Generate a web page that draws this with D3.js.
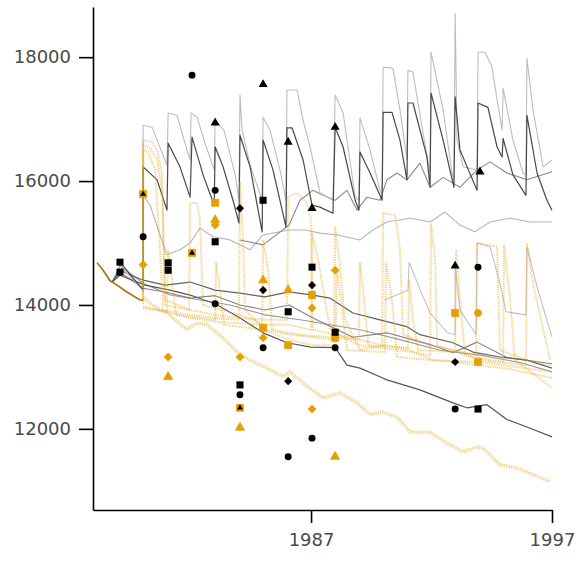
<!DOCTYPE html>
<html>
<head>
<meta charset="utf-8">
<script src="https://cdn.jsdelivr.net/npm/d3@7"></script>
<style>
  body { margin: 0; background: #fff; }
  svg { display: block; }
  .tick text { font-family: "DejaVu Sans", sans-serif; fill: #4a4a4a; }
</style>
</head>
<body>
<div id="viz"></div>
<script>
const width = 576;
const height = 562;

// tick labels
const yTicks = [12000, 14000, 16000, 18000];
const xTicks = [1987, 1997];

// history before the first forecast
const history = [[1978.12,14680],[1978.37,14560],[1978.66,14390],[1978.95,14320],[1979.28,14230],[1979.61,14150],[1979.90,14080],[1980.03,14080]];

// gray (solid) series
const grayUpperDark = [[1979.07,14690],[1980.03,14240],[1980.03,16230],[1980.61,16020],[1981.02,15530],[1981.07,16610],[1981.56,16230],[1981.98,15740],[1982.06,16710],[1982.52,16100],[1982.98,15610],[1983.02,16550],[1983.35,16230],[1983.76,15690],[1984.01,15320],[1984.05,16740],[1984.47,16230],[1984.97,15180],[1985.01,16660],[1985.42,16180],[1985.96,15260],[1986.00,16860],[1986.21,16860],[1986.67,16340],[1987.04,15610],[1987.37,15580],[1987.91,15480],[1988.00,16870],[1988.33,16550],[1988.83,15690],[1988.99,15530],[1989.03,16470],[1989.45,16130],[1989.95,15690],[1989.99,17110],[1990.36,17110],[1990.69,16660],[1990.98,16020],[1991.02,17260],[1991.23,17260],[1991.81,16390],[1991.94,15900],[1991.98,17420],[1992.48,16660],[1992.93,15900],[1992.98,17360],[1993.18,16500],[1993.89,15850],[1993.93,17260],[1994.34,17190],[1994.72,16550],[1994.93,16390],[1994.97,16690],[1995.38,16100],[1995.92,15770],[1995.96,17060],[1996.38,16130],[1996.79,15690],[1997.00,15530]];
const grayUpperLight = [[1979.07,14630],[1980.03,14240],[1980.03,16900],[1980.40,16870],[1980.61,16660],[1981.02,16260],[1981.07,17100],[1981.44,17060],[1981.85,16500],[1981.98,16340],[1982.02,17100],[1982.27,17030],[1982.60,16610],[1982.98,16180],[1983.02,16980],[1983.39,16820],[1983.85,16100],[1984.01,15690],[1984.05,17390],[1984.14,16820],[1984.47,16260],[1984.97,15690],[1985.01,17030],[1985.30,16820],[1985.71,16180],[1985.96,15690],[1986.00,17470],[1986.42,17470],[1986.67,16980],[1986.96,16550],[1987.37,15810],[1987.91,15690],[1988.00,17390],[1988.33,17100],[1988.83,15740],[1988.99,15690],[1989.03,17020],[1989.45,16500],[1989.86,15850],[1989.95,15770],[1989.99,17840],[1990.40,17820],[1990.69,17150],[1990.98,16340],[1991.02,17790],[1991.23,17760],[1991.65,16770],[1991.94,16130],[1991.98,18080],[1992.48,17150],[1992.85,16130],[1992.93,16020],[1992.98,18710],[1993.06,16660],[1993.31,16230],[1993.89,16180],[1993.93,18080],[1994.22,18080],[1994.51,17840],[1994.72,17310],[1994.93,16820],[1994.97,17500],[1995.38,16660],[1995.80,16130],[1995.92,16100],[1995.96,17980],[1996.21,17150],[1996.63,16230],[1997.00,16340]];
const grayWavyUpper = [[1984.05,15050],[1985.01,14970],[1986.09,15290],[1986.54,15690],[1987.08,15850],[1987.50,15770],[1988.00,15690],[1988.49,15850],[1988.91,15530],[1989.32,15740],[1989.86,15690],[1990.15,16020],[1990.57,16130],[1990.98,16020],[1991.52,16290],[1991.94,15900],[1992.48,16060],[1993.18,15900],[1993.89,16180],[1994.43,16310],[1995.13,16130],[1995.96,16020],[1997.00,16150]];
const grayMid = [[1980.03,14240],[1980.03,15770],[1980.32,15610],[1980.73,15130],[1981.02,14810],[1981.56,14890],[1981.98,15000],[1982.39,15240],[1982.93,15100],[1983.64,15050],[1984.47,14890],[1985.01,15130],[1986.09,15210],[1986.75,15210],[1987.37,15160],[1988.08,15130],[1989.03,15050],[1989.57,15210],[1990.15,15340],[1991.11,15400],[1991.94,15340],[1992.56,15500],[1993.18,15290],[1993.80,15180],[1994.43,15340],[1995.26,15400],[1996.09,15340],[1997.00,15340]];
const grayMidSpiky = [[1990.07,14080],[1991.02,14240],[1991.07,14690],[1991.65,14130],[1991.94,13870],[1992.64,13560],[1992.98,13520],[1992.98,14630],[1993.18,13920],[1993.85,13520],[1993.89,15000],[1994.43,14940],[1994.84,14350],[1995.09,13890],[1995.92,13840],[1995.96,14940],[1996.38,14290],[1997.00,13480]];
const grayLow1 = [[1978.74,14370],[1979.07,14560],[1980.03,14400],[1980.94,14320],[1981.98,14370],[1983.02,14240],[1984.05,14190],[1985.09,14130],[1986.09,14210],[1987.08,14160],[1987.79,14110],[1988.74,13870],[1989.86,13760],[1990.98,13650],[1991.52,13520],[1992.89,13390],[1993.72,13240],[1994.84,13160],[1995.96,13110],[1997.00,12980]];
const grayLow2 = [[1978.74,14370],[1979.07,14530],[1980.03,14270],[1980.94,14210],[1981.98,14110],[1983.02,14150],[1984.05,14000],[1985.09,13920],[1986.09,14000],[1987.08,13790],[1988.74,13480],[1990.15,13550],[1991.94,13360],[1992.89,13230],[1993.89,13400],[1995.13,13150],[1997.00,13050]];
const grayLow3 = [[1978.74,14370],[1979.07,14630],[1980.03,14350],[1981.15,14160],[1982.39,14080],[1983.64,14000],[1985.09,13840],[1986.54,13760],[1987.79,13680],[1989.03,13600],[1990.69,13440],[1992.35,13270],[1994.01,13190],[1995.67,13070],[1997.00,12920]];
const grayLowest = [[1978.74,14370],[1979.07,14480],[1980.11,14320],[1981.15,14240],[1981.98,14160],[1983.02,14020],[1984.05,13790],[1985.01,13550],[1986.00,13390],[1987.00,13320],[1988.00,13310],[1988.49,13030],[1989.03,12980],[1989.86,12840],[1990.15,12790],[1991.52,12630],[1992.89,12420],[1993.47,12340],[1994.30,12390],[1995.13,12150],[1995.96,12030],[1997.00,11870]];

// orange (dotted) series
const orangeLow = [[1980.03,14110],[1980.61,13950],[1981.02,13870],[1981.85,13600],[1982.27,13710],[1982.68,13680],[1983.35,13470],[1983.93,13240],[1984.47,13110],[1985.17,12980],[1985.84,12840],[1986.13,12920],[1986.67,12740],[1987.50,12500],[1988.20,12580],[1988.91,12420],[1989.45,12230],[1989.99,12270],[1990.57,12190],[1991.11,11950],[1991.94,11940],[1992.64,11770],[1993.31,11630],[1993.89,11710],[1994.14,11690],[1994.84,11420],[1995.55,11370],[1996.21,11260],[1996.92,11150]];
const orangeA = [[1980.03,14080],[1980.03,16660],[1980.40,16630],[1980.61,16500],[1980.82,16100],[1980.94,14080],[1981.98,13920],[1983.02,13840],[1984.05,13790],[1985.09,13760],[1986.00,13760],[1986.05,15740],[1986.42,15810],[1986.83,15650],[1987.00,15370],[1987.08,13600],[1988.00,13520],[1989.03,13440],[1989.95,13350],[1989.99,15480],[1990.49,15450],[1990.69,14890],[1990.82,13520],[1991.94,13350],[1992.98,13270],[1993.85,13190],[1993.89,15000],[1994.72,14940],[1994.84,13270],[1995.96,13110],[1997.00,13030]];
const orangeB = [[1980.03,14050],[1980.03,16580],[1980.32,16530],[1980.61,16340],[1980.82,15850],[1980.94,14000],[1981.94,13920],[1981.98,15650],[1982.27,15650],[1982.39,15370],[1982.52,14000],[1984.05,13840],[1985.09,13680],[1986.09,13680],[1987.00,13600],[1987.04,15160],[1987.29,14730],[1987.58,14080],[1987.79,13600],[1989.03,13350],[1990.69,13270],[1991.94,13190],[1991.98,15320],[1992.15,14730],[1992.23,13350],[1994.01,13110],[1995.92,13030],[1995.96,15000],[1996.21,14350],[1996.92,13110]];
const orangeC = [[1980.03,14020],[1980.03,16500],[1980.24,16470],[1980.53,16180],[1980.73,14890],[1980.86,13920],[1981.98,13840],[1983.02,13790],[1984.01,13760],[1984.05,15980],[1984.18,15050],[1984.26,13920],[1985.09,13600],[1986.13,13520],[1987.95,13440],[1988.00,15260],[1988.20,14650],[1988.41,13760],[1989.03,13270],[1990.07,13350],[1991.11,13270],[1992.06,13110],[1992.98,13080],[1994.01,13020],[1995.05,12980],[1997.00,12820]];
const orangeD = [[1980.03,13980],[1980.94,13890],[1981.98,13790],[1983.02,13730],[1984.97,13680],[1985.01,15050],[1985.22,14560],[1985.38,13600],[1986.54,13520],[1988.99,13440],[1989.03,14690],[1989.20,14080],[1989.37,13350],[1991.02,13310],[1991.07,14400],[1991.23,13760],[1991.44,13270],[1992.98,13240],[1993.02,14890],[1993.18,14080],[1993.39,13190],[1994.97,13080],[1995.01,14970],[1995.26,14080],[1995.46,13110],[1997.00,12660]];
const orangeE = [[1980.03,13950],[1981.02,13890],[1981.07,14890],[1981.23,14400],[1981.40,13840],[1983.02,13760],[1983.06,14690],[1983.22,14240],[1983.39,13680],[1985.01,13600],[1986.09,13440],[1987.08,13350],[1988.00,13350],[1988.08,14560],[1988.29,13920],[1988.49,13270],[1990.07,13240],[1990.11,14690],[1990.36,14080],[1990.57,13160],[1991.94,13110],[1994.01,13080],[1997.00,12920]];

// point forecasts: [year, value, marker]
const blackPoints = [
  [1982.06,17710,'o'],[1983.02,16940,'^'],[1985.01,17560,'^'],[1986.05,16630,'^'],[1987.04,15560,'^'],
  [1988.00,16870,'^'],[1994.01,16150,'^'],[1992.98,14630,'^'],[1983.02,15850,'o'],[1984.05,15560,'D'],
  [1985.01,15690,'s'],[1983.02,15020,'s'],[1980.03,15100,'o'],[1979.07,14690,'s'],[1979.07,14530,'s'],
  [1981.07,14680,'s'],[1981.07,14560,'s'],[1983.02,14020,'o'],[1985.01,14240,'D'],[1985.01,13310,'o'],
  [1986.05,13890,'s'],[1986.05,12770,'D'],[1986.05,11550,'o'],[1987.04,14610,'s'],[1987.04,14320,'D'],
  [1987.04,11850,'o'],[1988.00,13560,'s'],[1988.00,13310,'o'],[1984.05,12710,'s'],[1984.05,12550,'o'],
  [1992.98,13080,'D'],[1992.98,12320,'o'],[1993.93,14610,'o'],[1993.93,12320,'s']
];
const orangePoints = [
  [1980.03,15790,'s'],[1980.03,14650,'D'],[1982.06,14840,'s'],[1981.07,13160,'D'],[1981.07,12840,'^'],
  [1983.02,15650,'s'],[1983.02,15370,'^'],[1983.02,15290,'D'],[1984.05,13160,'D'],[1984.05,12340,'s'],
  [1984.05,12020,'^'],[1985.01,14400,'^'],[1985.01,13630,'s'],[1985.01,13470,'D'],[1986.05,14240,'^'],
  [1986.05,13350,'s'],[1987.04,14160,'s'],[1987.04,13950,'D'],[1987.04,12320,'D'],[1988.00,14560,'D'],
  [1988.00,13470,'s'],[1988.00,11550,'^'],[1992.98,13870,'s'],[1993.93,13870,'o'],[1993.93,13080,'s']
];
// small black triangles drawn inside some orange squares
const insetTriangles = [[1980.03,15790],[1982.06,14840],[1984.05,12340]];

const svg = d3.select('#viz')
  .append('svg')
    .attr('width', width)
    .attr('height', height);

const x = d3.scaleLinear().domain([1977.95, 1997]).range([93, 552]);
const y = d3.scaleLinear().domain([10690, 18810]).range([510, 7]);

const line = d3.line()
  .x(d => x(d[0]))
  .y(d => y(d[1]));

// gray lines
const graySeries = [
  {data: grayLow3, color: '#9a9a9a', w: 1.1},
  {data: grayLow2, color: '#808080', w: 1.1},
  {data: grayLow1, color: '#606060', w: 1.2},
  {data: grayLowest, color: '#555', w: 1.2},
  {data: grayMid, color: '#b5b5b5', w: 1.1},
  {data: grayMidSpiky, color: '#c2c2c2', w: 1.1},
  {data: grayWavyUpper, color: '#8a8a8a', w: 1.1},
  {data: grayUpperLight, color: '#bdbdbd', w: 1.1},
  {data: grayUpperDark, color: '#484848', w: 1.2}
];

svg.append('g')
  .selectAll('path')
  .data(graySeries)
  .join('path')
    .attr('d', d => line(d.data))
    .attr('fill', 'none')
    .attr('stroke', d => d.color)
    .attr('stroke-width', d => d.w)
    .attr('stroke-linejoin', 'round');

// orange dotted lines
const orangeSeries = [orangeA, orangeB, orangeC, orangeD, orangeE];

svg.append('g')
  .selectAll('path')
  .data(orangeSeries)
  .join('path')
    .attr('d', d => line(d))
    .attr('fill', 'none')
    .attr('stroke', '#eaa820')
    .attr('stroke-opacity', 0.5)
    .attr('stroke-width', 2)
    .attr('stroke-dasharray', '1.3,1');

svg.append('path')
  .attr('d', line(orangeLow))
  .attr('fill', 'none')
  .attr('stroke', '#eaa820')
  .attr('stroke-opacity', 0.5)
  .attr('stroke-width', 3.4)
  .attr('stroke-linejoin', 'round')
  .attr('stroke-dasharray', '1.3,1');

svg.append('path')
  .attr('d', line(history))
  .attr('fill', 'none')
  .attr('stroke', '#a8760e')
  .attr('stroke-width', 1.7);

// markers
const shapes = {
  'o': {type: d3.symbolCircle, size: 38},
  's': {type: d3.symbolSquare, size: 50},
  '^': {type: d3.symbolTriangle, size: 36},
  'D': {type: d3.symbolDiamond2 || d3.symbolDiamond, size: 42}
};
const sym = (m, k = 1) => d3.symbol().type(shapes[m].type).size(shapes[m].size * k)();

svg.append('g')
  .selectAll('path')
  .data(orangePoints)
  .join('path')
    .attr('transform', d => `translate(${x(d[0])},${y(d[1])})`)
    .attr('d', d => sym(d[2]))
    .attr('fill', '#e69f00')
    .attr('stroke', '#e69f00')
    .attr('stroke-width', 0.8);

svg.append('g')
  .selectAll('path')
  .data(blackPoints)
  .join('path')
    .attr('transform', d => `translate(${x(d[0])},${y(d[1])})`)
    .attr('d', d => sym(d[2]))
    .attr('fill', '#000');

svg.append('g')
  .selectAll('path')
  .data(insetTriangles)
  .join('path')
    .attr('transform', d => `translate(${x(d[0])},${y(d[1])})`)
    .attr('d', sym('^', 0.45))
    .attr('fill', '#000');

// axes
const yAxis = svg.append('g')
  .attr('transform', 'translate(93,0)')
  .call(d3.axisLeft(y).tickValues(yTicks).tickFormat(d3.format('d')).tickSize(14).tickSizeOuter(0).tickPadding(8));

const xAxis = svg.append('g')
  .attr('transform', 'translate(0,510)')
  .call(d3.axisBottom(x).tickValues(xTicks).tickFormat(d3.format('d')).tickSize(13).tickSizeOuter(0).tickPadding(10));

[yAxis, xAxis].forEach(ax => {
  ax.select('.domain').attr('stroke-width', 1.6);
  ax.selectAll('.tick line').attr('stroke-width', 1.6);
  ax.selectAll('.tick text').style('font-size', '18px');
});
</script>
</body>
</html>
